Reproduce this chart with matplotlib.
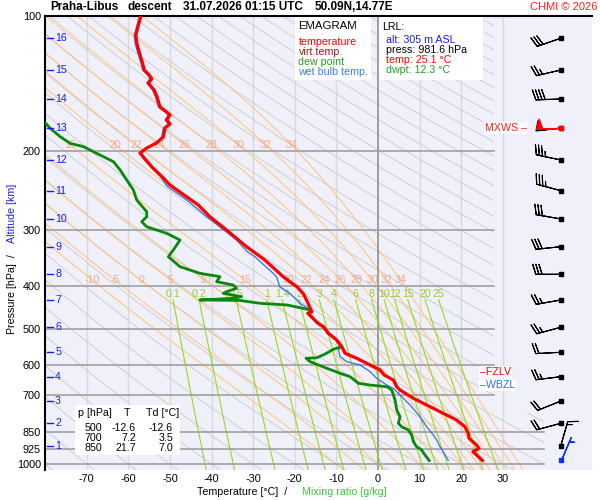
import numpy as np
import matplotlib
matplotlib.use('Agg')
import matplotlib.pyplot as plt
from matplotlib.path import Path
from matplotlib.patches import Rectangle

plt.rcParams['font.family'] = ['Liberation Sans', 'DejaVu Sans']
plt.rcParams['axes.unicode_minus'] = False

# sounding (pressure hPa, temperature degC)
t_pres = [100, 104.7, 110.3, 114.9, 122.2, 127.3, 132.0, 135.4, 138.2, 141.1,
          146.3, 151.6, 159.6, 163.8, 166.3, 170.6, 174.2, 177.8, 186.2, 192.0,
          197.1, 202.2, 206.4, 216.9, 228.4, 238.3, 248.7, 264.1, 280.5, 300.3,
          327.2, 350.4, 381.8, 391.7, 401.9, 415.8, 437.7, 457.0, 460.8, 485.1,
          493.6, 510.7, 528.6, 547.1, 566.0, 580.7, 595.8, 616.6, 632.7, 649.2,
          671.9, 683.4, 713.2, 744.6, 777.1, 797.4, 825.3, 853.7, 875.9, 906.6,
          922.2, 938.4, 954.4, 981.6]
t_temp = [-57.0, -57.6, -58.2, -58.0, -57.2, -56.6, -56.2, -55.0, -54.4, -55.2,
          -53.8, -53.1, -52.4, -50.8, -50.0, -50.8, -50.0, -51.2, -51.6, -53.2,
          -55.6, -57.2, -56.4, -54.4, -51.9, -50.0, -47.2, -43.2, -40.4, -36.4,
          -31.6, -27.2, -22.8, -21.2, -19.5, -18.0, -16.8, -15.9, -16.8, -14.4,
          -13.1, -11.9, -9.9, -8.7, -7.9, -5.1, -2.7, 0.5, 1.5, 3.7,
          4.5, 5.3, 8.5, 12.5, 16.5, 18.9, 20.9, 21.7, 21.9, 23.7,
          24.3, 22.8, 23.7, 25.1]

td_pres = [160, 173.0, 178.1, 185.9, 192.4, 195.7, 199.1, 204.3, 211.4, 220.6,
           232.3, 244.5, 257.4, 273.4, 280.5, 287.8, 295.3, 305.5, 316.2, 332.8,
           344.5, 362.7, 375.2, 381.8, 391.7, 398.4, 405.2, 412.4, 415.8, 423.1,
           426.6, 430.3, 431.3, 437.7, 441.5, 449.1, 453.1, 457.0, 460.8, 485.1,
           493.6, 510.7, 528.6, 547.1, 554.4, 568.0, 579.0, 580.7, 590.9, 611.3,
           627.2, 638.3, 660.4, 666.1, 671.9, 683.4, 719.0, 757.3, 783.9, 811.0,
           825.3, 839.3, 861.2, 891.4, 914.6, 930.1, 954.4, 981.6]
td_temp = [-86.0, -80.0, -78.8, -76.4, -74.0, -70.8, -69.2, -66.8, -63.6, -62.0,
           -60.4, -58.8, -58.0, -55.6, -55.6, -56.8, -55.6, -50.8, -47.6, -49.2,
           -50.4, -47.6, -42.8, -38.0, -38.8, -34.8, -34.0, -36.4, -37.2, -32.8,
           -34.8, -42.8, -33.2, -28.4, -21.9, -18.0, -16.2, -16.0, -16.9, -14.5,
           -13.2, -12.0, -10.0, -8.8, -10.7, -12.7, -14.7, -17.3, -16.3, -12.3,
           -9.1, -6.7, -4.7, -1.9, 2.1, 3.3, 4.1, 4.5, 5.3, 4.9,
           5.7, 7.3, 8.1, 8.5, 9.3, 10.5, 11.3, 12.3]

tw_pres = [100, 110.3, 114.9, 122.2, 127.3, 132.0, 135.4, 138.2, 141.1, 146.3,
           151.6, 159.6, 163.8, 166.3, 170.6, 174.2, 177.8, 186.2, 192.0, 197.1,
           202.2, 206.4, 216.9, 228.4, 240.4, 257.3, 280.5, 292.7, 316.3, 335.7,
           344.6, 375.2, 381.8, 401.9, 415.8, 430.3, 437.7, 447.0, 453.1, 460.8,
           485.1, 493.6, 510.7, 528.6, 547.1, 556.4, 576.0, 590.9, 600.9, 622.1,
           643.5, 666.1, 677.7, 701.2, 738.2, 783.9, 825.3, 861.2, 883.6, 914.6,
           938.4, 981.6]
tw_temp = [-57.3, -58.6, -58.4, -57.6, -57.0, -56.6, -55.4, -54.8, -55.6, -54.2,
           -53.5, -52.8, -51.2, -50.4, -51.2, -50.4, -51.6, -52.0, -53.5, -55.9,
           -57.4, -56.7, -54.7, -52.3, -50.6, -46.0, -41.2, -38.6, -34.0, -31.4,
           -29.6, -25.2, -24.4, -23.6, -21.2, -19.5, -18.8, -17.1, -16.2, -17.0,
           -14.6, -13.3, -12.1, -10.1, -8.9, -9.5, -9.1, -7.5, -4.3, -1.9,
           -0.3, 2.1, 3.7, 5.3, 7.7, 10.1, 11.7, 13.3, 14.1, 14.9,
           15.7, 16.9]

# altitude scale (km -> hPa) and winds at each km
alt_km = [16, 15, 14, 13, 12, 11, 10, 9, 8, 7, 6, 5, 4, 3, 2, 1]
alt_pres = [112.1, 132.0, 153.2, 177.8, 209.6, 245.4, 283.8, 327.2, 377.1, 430.3,
            495.1, 563.0, 638.2, 723.2, 811.0, 909.8]
wind_dir = [251, 257, 268, 263, 282, 285, 280, 264, 270, 260, 255, 267, 263, 248, 255, 16]
wind_kt = [30, 25, 40, 50, 35, 35, 30, 30, 30, 25, 25, 20, 25, 20, 20, 15]
mxws_pres, mxws_dir, mxws_kt = 177.8, 268, 50
sfc_pres, sfc_dir, sfc_kt = 981.6, 23, 5

fzlv_pres = 622
wbzl_pres = 666

table_p = ['500', '700', '850']
table_t = ['-12.6', '7.2', '21.7']
table_td = ['-12.6', '3.5', '7.0']

isobars = [200, 300, 400, 500, 600, 700, 850, 925, 1000]
p_ticks = [100, 200, 300, 400, 500, 600, 700, 850, 925, 1000]
isotherms = [-70, -60, -50, -40, -30, -20, -10, 10, 20, 30]
t_ticks = [-70, -60, -50, -40, -30, -20, -10, 0, 10, 20, 30]
theta_dry_c = list(range(-80, 330, 10))
theta_w = [-10, -5, 0, 5, 10, 15, 20, 22, 24, 26, 28, 30, 32, 34]
theta_w_top = [15, 20, 22, 24, 26, 28, 30, 32, 34]
mix_ratio = [0.1, 0.2, 0.5, 1, 1.4, 2, 3, 4, 6, 8, 10, 12, 15, 20, 25]
mix_labels = ['0.1', '0.2', '0.5', '1', '1.4', '2', '3', '4', '6', '8', '10', '12', '15', '20', '25']

P_BOT, P_TOP = 1030.9, 100.0
FS = 7.7

# thermodynamics for the background lines
RD, CP, LV, EPS = 287.04, 1005.7, 2.501e6, 0.622


def sat_vap(tk):
    tc = tk - 273.15
    return 6.112 * np.exp(17.67 * tc / (tc + 243.5))


def lapse(p, tk):
    rs = EPS * sat_vap(tk) / (p - sat_vap(tk))
    return (RD * tk + LV * rs) / (p * (CP + LV * LV * rs * EPS / (RD * tk * tk)))


def moist(tw, pseq):
    t = np.array(tw, float) + 273.15
    out = [t.copy()]
    for p0, p1 in zip(pseq[:-1], pseq[1:]):
        dp = p1 - p0
        k1 = lapse(p0, t)
        k2 = lapse(p0 + dp / 2, t + k1 * dp / 2)
        k3 = lapse(p0 + dp / 2, t + k2 * dp / 2)
        k4 = lapse(p1, t + k3 * dp)
        t = t + dp * (k1 + 2 * k2 + 2 * k3 + k4) / 6
        out.append(t.copy())
    return np.array(out) - 273.15


def mix_td(w, p):
    e = w * p / (622.0 + w)
    a = np.log(e / 6.112)
    return 243.5 * a / (17.67 - a)


fig = plt.figure(figsize=(6, 5), dpi=100)
ax = fig.add_axes([45 / 600, 30 / 500, 547 / 600, 454 / 500])
ax.set_facecolor('#f0f0fa')
ax.set_yscale('log')
ax.set_ylim(P_BOT, P_TOP)
ax.set_xlim(-80.05, 51.45)

clip = Path([(-81, 99), (28, 99), (28, 770), (40, 770), (40, 1040), (-81, 1040), (-81, 99)])


def clipped(lines):
    for ln in lines:
        ln.set_clip_path(clip, ax.transData)


# isotherms
for t in isotherms:
    ax.axvline(t, color='#d9d9d9', lw=1, zorder=1)
ax.axvline(0, color='#909090', lw=1.2, zorder=2)

# dry adiabats
pp = np.geomspace(P_TOP, P_BOT, 120)
for th in theta_dry_c:
    clipped(ax.plot((th + 273.15) * (pp / 1000) ** 0.2857 - 273.15, pp,
                    color='#cfcfcf', lw=0.7, zorder=1))

# moist adiabats
p_up = np.geomspace(1000, P_TOP, 240)
p_dn = np.geomspace(1000, P_BOT, 6)
m_up = moist(theta_w, p_up)
m_dn = moist(theta_w, p_dn)
for i in range(len(theta_w)):
    clipped(ax.plot(np.r_[m_dn[::-1, i], m_up[1:, i]], np.r_[p_dn[::-1], p_up[1:]],
                    color='#ffc47a', lw=0.7, zorder=1))
lab_col = '#f6a889'
for p_lab, vals in ((389, theta_w), (194, theta_w_top)):
    for tw in vals:
        i = theta_w.index(tw)
        x = np.interp(np.log(p_lab), np.log(p_up[::-1]), m_up[::-1, i])
        ax.text(x, p_lab, str(tw), color=lab_col, fontsize=FS, ha='center', va='center', zorder=3)

# mixing ratio lines
pm = np.geomspace(430, P_BOT, 40)
for w, lab in zip(mix_ratio, mix_labels):
    ax.plot(mix_td(w, pm), pm, color='#99d81e', lw=0.8, zorder=2)
    ax.text(mix_td(w, 430), 417, lab, color='#99cc33', fontsize=FS, ha='center', va='center', zorder=3)

# isobars
for p in isobars:
    right = 40 if p >= 850 else 28
    ax.plot([-80.05, right], [p, p], color='#a0a0a0', lw=1.2, zorder=2)

# profiles
ax.plot(tw_temp, tw_pres, color='#2f6ff0', lw=0.9, zorder=4)
ax.plot(td_temp, td_pres, color='#0a880a', lw=2.0, zorder=4)
ax.plot(t_temp, t_pres, color='#ff0000', lw=2.3, zorder=5)

# altitude scale
ytr = ax.get_yaxis_transform()
for km, p in zip(alt_km, alt_pres):
    ax.plot([0.0045, 0.0152], [p, p], color='#1c1cf0', lw=1, transform=ytr, zorder=6)
    ax.text(0.0185, p, str(km), color='#1c1cf0', fontsize=FS, va='center', transform=ytr, zorder=6)

# wind barbs
bx = 0.943
blen = 6.0
wd = np.radians(wind_dir)
u = -np.array(wind_kt) * np.sin(wd)
v = -np.array(wind_kt) * np.cos(wd)
ax.barbs(np.full(len(alt_pres), bx), alt_pres, u, v, transform=ytr, length=blen,
         linewidth=0.8, color='k', zorder=6)
ax.scatter(np.full(len(alt_pres), bx), alt_pres, marker='s', s=5, color='k', transform=ytr, zorder=7)
md = np.radians(mxws_dir)
ax.barbs([bx], [mxws_pres], [-mxws_kt * np.sin(md)], [-mxws_kt * np.cos(md)], transform=ytr,
         length=blen, linewidth=1.0, color='#ff0000', zorder=7)
ax.scatter([bx], [mxws_pres], marker='s', s=6, color='#ff0000', transform=ytr, zorder=8)
sd = np.radians(sfc_dir)
ax.barbs([bx], [sfc_pres], [-sfc_kt * np.sin(sd)], [-sfc_kt * np.cos(sd)], transform=ytr,
         length=blen, linewidth=0.9, color='#1030ff', zorder=7)
ax.scatter([bx], [sfc_pres], marker='s', s=6, color='#1030ff', transform=ytr, zorder=8)

box = dict(facecolor='white', edgecolor='none', pad=0.6)
ax.text(35.8, mxws_pres, 'MXWS \u2013', color='#ff2020', fontsize=FS, ha='right', va='center',
        bbox=box, zorder=7)
ax.text(24.5, fzlv_pres, '\u2013FZLV', color='#ff0000', fontsize=FS, va='center', bbox=box, zorder=7)
ax.text(24.5, wbzl_pres, '\u2013WBZL', color='#2f6ff0', fontsize=FS, va='center', bbox=box, zorder=7)

# axes styling
ax.set_yticks(p_ticks)
ax.set_yticklabels([str(p) for p in p_ticks])
ax.yaxis.set_minor_locator(plt.NullLocator())
ax.set_xticks(t_ticks)
ax.set_xticklabels([str(t) for t in t_ticks])
ax.tick_params(length=0, labelsize=7.8, pad=3)
for s in ('right', 'bottom'):
    ax.spines[s].set_visible(False)
ax.spines['left'].set_linewidth(1.5)
ax.spines['top'].set_linewidth(1.5)


def fx(px):
    return px / 600


def fy(py):
    return 1 - py / 500


def rect(x0, y0, x1, y1):
    fig.add_artist(Rectangle((fx(x0), fy(y1)), (x1 - x0) / 600, (y1 - y0) / 500,
                             transform=fig.transFigure, facecolor='white', edgecolor='none', zorder=5))


# title
fig.text(fx(50), fy(7), 'Praha-Libus', fontsize=8.5, weight='bold', va='center')
fig.text(fx(128), fy(7), 'descent', fontsize=8.5, weight='bold', va='center')
fig.text(fx(183), fy(7), '31.07.2026 01:15 UTC', fontsize=8.5, weight='bold', va='center')
fig.text(fx(315), fy(7), '50.09N,14.77E', fontsize=8.5, weight='bold', va='center')
fig.text(fx(597), fy(7), 'CHMI \u00a9 2026', fontsize=8, color='#ff2020', ha='right', va='center')

# legend box
rect(295, 17, 371, 80)
fig.text(fx(298.5), fy(26), 'EMAGRAM', fontsize=8.2, va='center', zorder=6)
for yy, txt, col in ((42, 'temperature', '#ff0000'), (52, 'virt.temp.', '#a01818'),
                     (62, 'dew point', '#22a022'), (72, 'wet bulb temp.', '#3a7ff0')):
    fig.text(fx(298.5), fy(yy), txt, fontsize=FS, color=col, va='center', zorder=6)

# launch box
rect(379, 17, 483, 80)
fig.text(fx(382), fy(27), 'LRL:', fontsize=FS, va='center', zorder=6)
for yy, txt, col in ((40, 'alt: 305 m ASL', '#1c1cf0'), (50, 'press: 981.6 hPa', 'black'),
                     (60, 'temp: 25.1 \u00b0C', '#ff0000'), (70, 'dwpt: 12.3 \u00b0C', '#22a022')):
    fig.text(fx(386), fy(yy), txt, fontsize=FS, color=col, va='center', zorder=6)

# level table
rect(75, 405, 180, 455)
fig.text(fx(78), fy(413), 'p [hPa]', fontsize=FS, va='center', zorder=6)
fig.text(fx(127), fy(413), 'T', fontsize=FS, va='center', ha='center', zorder=6)
fig.text(fx(146), fy(413), 'Td [\u00b0C]', fontsize=FS, va='center', zorder=6)
for k in range(len(table_p)):
    yy = 428.3 + 10 * k
    fig.text(fx(102), fy(yy), table_p[k], fontsize=FS, ha='right', va='center', zorder=6)
    fig.text(fx(136), fy(yy), table_t[k], fontsize=FS, ha='right', va='center', zorder=6)
    fig.text(fx(173), fy(yy), table_td[k], fontsize=FS, ha='right', va='center', zorder=6)

# axis titles
fig.text(fx(197), fy(492), 'Temperature [\u00b0C]  /', fontsize=FS, va='center')
fig.text(fx(302), fy(492), 'Mixing ratio [g/kg]', fontsize=FS, color='#3cc83c', va='center')
fig.text(fx(12), fy(334), 'Pressure [hPa]  /', fontsize=FS, rotation=90, ha='center', va='bottom')
fig.text(fx(12), fy(243), 'Altitude [km]', fontsize=FS, rotation=90, ha='center', va='bottom',
         color='#1c1cf0')

fig.savefig('out.png', dpi=100)
